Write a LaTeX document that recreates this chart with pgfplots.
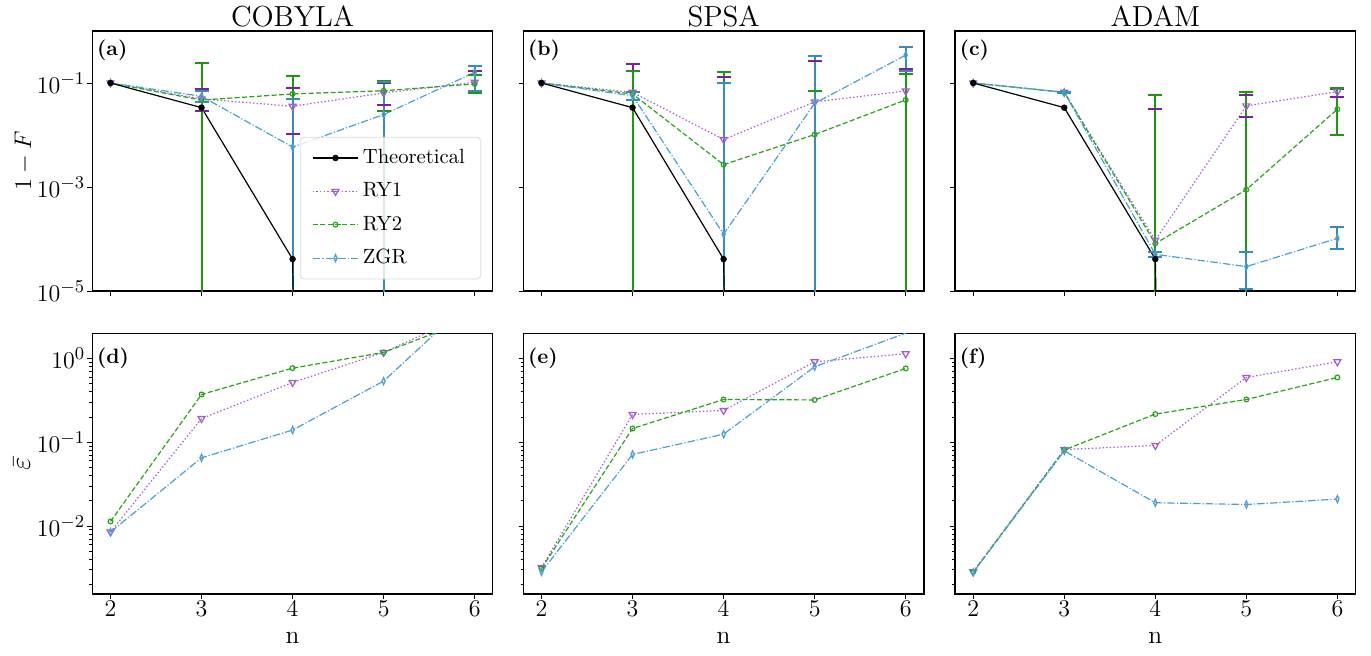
\documentclass[border=0pt]{standalone}
\usepackage{pgfplots}
\pgfplotsset{compat=1.18}
\definecolor{ry1l}{RGB}{165,90,215}
\definecolor{ry1e}{RGB}{125,30,170}
\definecolor{ry2l}{RGB}{40,165,25}
\definecolor{ry2e}{RGB}{25,155,10}
\definecolor{zgrl}{RGB}{75,160,210}
\definecolor{zgre}{RGB}{55,140,190}
\tikzset{plabel/.style={anchor=west, inner sep=0pt, font=\bfseries\fontsize{10.4}{12}\selectfont}}
\pgfplotsset{
 mybase/.style={scale only axis, width=200.3pt, xmin=1.8, xmax=6.2,
   xtick={2,3,4,5,6}, tick align=outside, xtick pos=bottom, ytick pos=left,
   major tick length=2.4pt, minor tick length=1.4pt,
   tick style={black, line width=0.5pt}, axis line style={line width=0.6pt},
   tick label style={font=\fontsize{12.5}{15}\selectfont},
   label style={font=\fontsize{12.7}{15}\selectfont},
   every axis title/.style={at={(0.5,1)}, anchor=base, inner sep=0pt, yshift=2.5pt, font=\fontsize{14.5}{17}\selectfont},
   xticklabel style={inner sep=1pt}, yticklabel style={inner sep=1pt},
   unbounded coords=jump},
 mytop/.style={height=130pt, ymin=1e-5, ymax=1, ytick={1e-5,1e-3,1e-1}, yminorticks=false, xticklabels={}},
 mybot/.style={height=130.35pt, ymin=0.00155, ymax=1.995, ytick={0.01,0.1,1},
   minor ytick={0.002,0.003,0.004,0.005,0.006,0.007,0.008,0.009,0.02,0.03,0.04,0.05,0.06,0.07,0.08,0.09,0.2,0.3,0.4,0.5,0.6,0.7,0.8,0.9},
   xlabel={n}, xlabel style={at={(axis description cs:0.5,-0.169)}, anchor=center}},
 theo/.style={black, solid, line width=0.6pt, mark=*, mark size=1.3pt, mark options={solid}},
 ry1/.style={ry1l, line width=0.6pt, dash pattern=on 0.7pt off 1.1pt, mark=triangle, mark size=2pt, mark options={solid, rotate=180}},
 ry2/.style={ry2l, line width=0.6pt, dash pattern=on 2.5pt off 1.2pt, mark=o, mark size=1.2pt, mark options={solid}},
 zgr/.style={zgrl, line width=0.6pt, dash pattern=on 3.8pt off 1pt on 0.6pt off 1pt, mark=diamond, mark size=1.8pt, mark options={solid, xscale=0.6}},
 err/.style={#1, solid, line width=1pt, mark=-, mark size=3.5pt, mark options={solid, #1}, forget plot},
}
\begin{document}
\begin{tikzpicture}
\path[use as bounding box] (0,0) rectangle (685.5pt,327.5pt);

% ---------------- (a) COBYLA ----------------
\begin{semilogyaxis}[mybase, mytop, at={(46.15pt,182pt)}, anchor=south west, title={COBYLA},
  ylabel={$1-F$}, ylabel style={at={(axis description cs:-0.1705,0.5)}, anchor=center},
  legend style={at={(1,0)}, anchor=south east, xshift=-5.85pt, yshift=5.85pt, draw=black!15,
    rounded corners=2pt, fill=white, fill opacity=0.8, draw opacity=1, text opacity=1,
    font=\fontsize{10.3}{12}\selectfont, inner xsep=6pt, inner ysep=4pt, row sep=4.1pt},
  legend cell align=left,
  legend image code/.code={\draw[mark repeat=2, mark phase=2] plot coordinates {(0cm,0cm) (0.4cm,0cm) (0.8cm,0cm)};}]
\addlegendimage{theo}\addlegendentry{Theoretical}
% error bars: pairs (lower, upper); 1e-100 stands for a lower end at or below zero
\addplot[err=ry1e] coordinates {(3,0.0295) (3,0.0767) (3,nan) (4,0.0105) (4,0.0802) (4,nan) (5,0.0384) (5,0.098) (5,nan) (6,0.0711) (6,0.167)};
\addplot[err=ry2e] coordinates {(3,1e-100) (3,0.241) (3,nan) (4,1e-100) (4,0.136) (4,nan) (5,0.0294) (5,0.1107) (5,nan) (6,0.0645) (6,0.142)};
\addplot[err=zgre] coordinates {(3,0.0427) (3,0.0713) (3,nan) (4,1e-100) (4,0.0493) (4,nan) (5,1e-100) (5,0.105) (5,nan) (6,0.0711) (6,0.212)};
\addplot[ry1] coordinates {(2,0.1) (3,0.0493) (4,0.0357) (5,0.0645) (6,0.103)};\addlegendentry{RY1}
\addplot[ry2] coordinates {(2,0.1) (3,0.047) (4,0.0616) (5,0.071) (6,0.096)};\addlegendentry{RY2}
\addplot[zgr] coordinates {(2,0.1) (3,0.0555) (4,0.00586) (5,0.0247) (6,0.16)};\addlegendentry{ZGR}
\addplot[theo, forget plot] coordinates {(2,0.1) (3,0.0336) (4,4.1e-5) (5,1e-100) (6,1e-100)};
\node[plabel] at (rel axis cs:0.011,0.924) {(a)};
\end{semilogyaxis}

% ---------------- (b) SPSA ----------------
\begin{semilogyaxis}[mybase, mytop, at={(261.65pt,182pt)}, anchor=south west, title={SPSA}, yticklabels={}]
\addplot[err=ry1e] coordinates {(3,1e-100) (3,0.237) (3,nan) (4,1e-100) (4,0.130) (4,nan) (5,1e-100) (5,0.264) (5,nan) (6,1e-100) (6,0.182)};
\addplot[err=ry2e] coordinates {(3,1e-100) (3,0.170) (3,nan) (4,1e-100) (4,0.16) (4,nan) (5,1e-100) (5,0.0713) (5,nan) (6,1e-100) (6,0.149)};
\addplot[err=zgre] coordinates {(3,0.0472) (3,0.0672) (3,nan) (4,1e-100) (4,0.1) (4,nan) (5,1e-100) (5,0.324) (5,nan) (6,0.17) (6,0.502)};
\addplot[ry1] coordinates {(2,0.1) (3,0.0662) (4,0.0082) (5,0.0433) (6,0.0703)};
\addplot[ry2] coordinates {(2,0.1) (3,0.0616) (4,0.00269) (5,0.0102) (6,0.0472)};
\addplot[zgr] coordinates {(2,0.1) (3,0.057) (4,1.24e-4) (5,0.0407) (6,0.343)};
\addplot[theo] coordinates {(2,0.1) (3,0.0336) (4,4.1e-5) (5,1e-100) (6,1e-100)};
\node[plabel] at (rel axis cs:0.011,0.924) {(b)};
\end{semilogyaxis}

% ---------------- (c) ADAM ----------------
\begin{semilogyaxis}[mybase, mytop, at={(477.5pt,182pt)}, anchor=south west, title={ADAM}, yticklabels={}]
\addplot[err=ry1e] coordinates {(4,1e-100) (4,0.0322) (4,nan) (5,0.0224) (5,0.0598) (5,nan) (6,0.0547) (6,0.0779)};
\addplot[err=ry2e] coordinates {(4,1e-100) (4,0.0589) (4,nan) (5,1e-100) (5,0.0662) (5,nan) (6,0.0101) (6,0.079)};
\addplot[err=zgre] coordinates {(3,0.0642) (3,0.0682) (3,nan) (4,4.43e-5) (4,5.69e-5) (4,nan) (5,1.08e-5) (5,5.53e-5) (5,nan) (6,6.41e-5) (6,1.67e-4)};
\addplot[ry1] coordinates {(2,0.1) (3,0.0662) (4,9.5e-5) (5,0.0363) (6,0.0682)};
\addplot[ry2] coordinates {(2,0.1) (3,0.0662) (4,8.2e-5) (5,8.9e-4) (6,0.0313)};
\addplot[zgr] coordinates {(2,0.1) (3,0.0662) (4,5.07e-5) (5,2.95e-5) (6,1.03e-4)};
\addplot[theo] coordinates {(2,0.1) (3,0.0336) (4,4.1e-5) (5,1e-100) (6,1e-100)};
\node[plabel] at (rel axis cs:0.011,0.924) {(c)};
\end{semilogyaxis}

% ---------------- (d) ----------------
\begin{semilogyaxis}[mybase, mybot, at={(46.15pt,30.5pt)}, anchor=south west,
  ylabel={$\bar{\varepsilon}$}, ylabel style={at={(axis description cs:-0.176,0.5)}, anchor=center, font=\fontsize{14}{16}\selectfont}]
\addplot[ry1] coordinates {(2,0.0085) (3,0.192) (4,0.517) (5,1.18) (6,3.67)};
\addplot[ry2] coordinates {(2,0.01137) (3,0.372) (4,0.767) (5,1.18) (6,3.04)};
\addplot[zgr] coordinates {(2,0.0085) (3,0.0653) (4,0.14) (5,0.537) (6,5.4)};
\node[plabel] at (rel axis cs:0.011,0.904) {(d)};
\end{semilogyaxis}

% ---------------- (e) ----------------
\begin{semilogyaxis}[mybase, mybot, at={(261.65pt,30.5pt)}, anchor=south west, yticklabels={}]
\addplot[ry1] coordinates {(2,0.00321) (3,0.215) (4,0.24) (5,0.912) (6,1.137)};
\addplot[ry2] coordinates {(2,0.00313) (3,0.146) (4,0.324) (5,0.32) (6,0.76)};
\addplot[zgr] coordinates {(2,0.00285) (3,0.0716) (4,0.125) (5,0.796) (6,2.0)};
\node[plabel] at (rel axis cs:0.011,0.904) {(e)};
\end{semilogyaxis}

% ---------------- (f) ----------------
\begin{semilogyaxis}[mybase, mybot, at={(477.5pt,30.5pt)}, anchor=south west, yticklabels={}]
\addplot[ry1] coordinates {(2,0.00285) (3,0.082) (4,0.0917) (5,0.593) (6,0.912)};
\addplot[ry2] coordinates {(2,0.00285) (3,0.081) (4,0.217) (5,0.324) (6,0.593)};
\addplot[zgr] coordinates {(2,0.0028) (3,0.079) (4,0.019) (5,0.0181) (6,0.021)};
\node[plabel] at (rel axis cs:0.011,0.904) {(f)};
\end{semilogyaxis}
\end{tikzpicture}
\end{document}
